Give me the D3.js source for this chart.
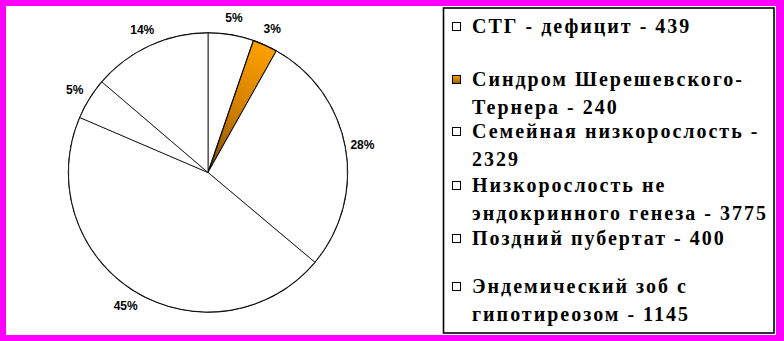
<!DOCTYPE html>
<html>
<head>
<meta charset="utf-8">
<script src="https://cdn.jsdelivr.net/npm/d3@7"></script>
<style>
  html, body { margin: 0; padding: 0; background: #ff00ff; }
  svg { display: block; }
  .pct { font-family: "Liberation Sans", Arial, sans-serif; font-weight: bold; font-size: 12px; }
  .legtext { font-family: "Liberation Serif", "Times New Roman", serif; font-weight: bold; font-size: 20px; letter-spacing: 2px; }
</style>
</head>
<body>
<svg width="784" height="341"></svg>
<script>
// data
var categories = ["СТГ - дефицит", "Синдром Шерешевского-Тернера", "Семейная низкорослость",
                  "Низкорослость не эндокринного генеза", "Поздний пубертат", "Эндемический зоб с гипотиреозом"];
var values = [439, 240, 2329, 3775, 400, 1145];
var percentLabels = ["5%", "3%", "28%", "45%", "5%", "14%"];
// legend lines as they wrap in the picture
var legendLines = [
  ["СТГ - дефицит - 439"],
  ["Синдром Шерешевского-", "Тернера - 240"],
  ["Семейная низкорослость -", "2329"],
  ["Низкорослость не", "эндокринного генеза - 3775"],
  ["Поздний пубертат - 400"],
  ["Эндемический зоб с", "гипотиреозом - 1145"]
];
var highlighted = [false, true, false, false, false, false];

var svg = d3.select("svg");

// white canvas inside the magenta frame
svg.append("rect")
  .attr("x", 6).attr("y", 6)
  .attr("width", 770).attr("height", 329)
  .attr("fill", "#fff");

var defs = svg.append("defs");
var cx = 208, cy = 172.5, radius = 139.5;

var pie = d3.pie().sort(null).value(function(d) { return d; });
var arcs = pie(values);
var arc = d3.arc().innerRadius(0).outerRadius(radius);
var labelArc = d3.arc().innerRadius(157).outerRadius(157);

// gradient for the orange slice, running from centre outwards
var hl = arcs[1];
var mid = (hl.startAngle + hl.endAngle) / 2;
var grad = defs.append("linearGradient")
  .attr("id", "orangeGrad")
  .attr("gradientUnits", "userSpaceOnUse")
  .attr("x1", 0).attr("y1", 0)
  .attr("x2", Math.sin(mid) * radius).attr("y2", -Math.cos(mid) * radius);
grad.append("stop").attr("offset", "0%").attr("stop-color", "#7a4a00");
grad.append("stop").attr("offset", "45%").attr("stop-color", "#cc7c00");
grad.append("stop").attr("offset", "100%").attr("stop-color", "#ffa000");

var legGrad = defs.append("linearGradient")
  .attr("id", "legGrad").attr("x1", 0).attr("y1", 0).attr("x2", 0).attr("y2", 1);
legGrad.append("stop").attr("offset", "0%").attr("stop-color", "#ffa000");
legGrad.append("stop").attr("offset", "100%").attr("stop-color", "#9a5e00");

var g = svg.append("g").attr("transform", "translate(" + cx + "," + cy + ")");

// outer circle
g.append("circle")
  .attr("r", radius)
  .attr("fill", "#fff")
  .attr("stroke", "#000")
  .attr("stroke-width", 1.4);

g.selectAll(".slice")
  .data(arcs)
  .enter().append("path")
    .attr("class", "slice")
    .attr("d", arc)
    .attr("fill", function(d, i) { return highlighted[i] ? "url(#orangeGrad)" : "#fff"; })
    .attr("stroke", "#000")
    .attr("stroke-width", function(d, i) { return highlighted[i] ? 1.2 : 0.8; })
    .attr("stroke-linejoin", "round");

g.selectAll(".pct")
  .data(arcs)
  .enter().append("text")
    .attr("class", "pct")
    .attr("transform", function(d) { return "translate(" + labelArc.centroid(d) + ")"; })
    .attr("text-anchor", "middle")
    .attr("dy", "0.35em")
    .attr("fill", "#000")
    .text(function(d, i) { return percentLabels[i]; });

// legend
svg.append("rect")
  .attr("x", 443.5).attr("y", 8)
  .attr("width", 330.5).attr("height", 325)
  .attr("fill", "#fff")
  .attr("stroke", "#000")
  .attr("stroke-width", 1.6);

var legendBaselines = [33, 86, 138, 192, 245, 293];
var lineStep = 28;

var items = svg.selectAll(".leg")
  .data(categories)
  .enter().append("g")
    .attr("class", "leg")
    .attr("transform", function(d, i) { return "translate(0," + legendBaselines[i] + ")"; });

items.append("rect")
  .attr("x", 452.5).attr("y", -10.5)
  .attr("width", 8).attr("height", 8)
  .attr("fill", function(d, i) { return highlighted[i] ? "url(#legGrad)" : "#fff"; })
  .attr("stroke", "#000")
  .attr("stroke-width", 1);

items.each(function(d, i) {
  d3.select(this).selectAll("text")
    .data(legendLines[i])
    .enter().append("text")
      .attr("class", "legtext")
      .attr("x", 472)
      .attr("y", function(t, j) { return j * lineStep; })
      .attr("fill", "#000")
      .text(function(t) { return t; });
});
</script>
</body>
</html>
